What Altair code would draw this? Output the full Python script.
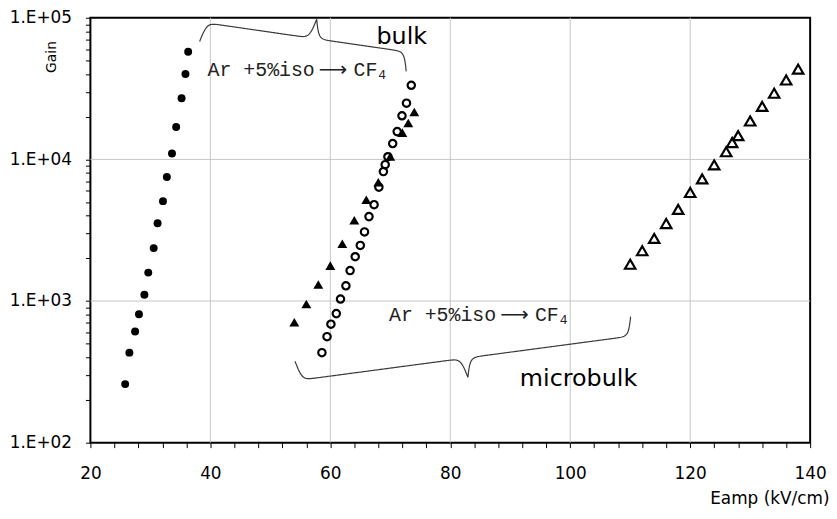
import math
import altair as alt
import pandas as pd

# ---------------- data ----------------
ar_bulk_x = [25.8, 26.5, 27.45, 28.1, 29.0, 29.65, 30.55, 31.2, 32.1, 32.75, 33.6, 34.3, 35.2, 35.85, 36.3]
ar_bulk_gain = [259, 432, 610, 806, 1108, 1587, 2364, 3540, 5074, 7519, 11010, 16940, 27050, 40060, 57500]

cf4_bulk_x = [58.6, 59.45, 60.1, 61.0, 61.7, 62.6, 63.3, 64.15, 65.0, 65.7, 66.45, 67.3, 68.1,
              68.85, 69.15, 69.6, 70.4, 71.15, 71.95, 72.7, 73.5]
cf4_bulk_gain = [432, 560, 686, 815, 1033, 1281, 1640, 2055, 2470, 3076, 3945, 4787, 6363,
                 8200, 9180, 10440, 12940, 15710, 20330, 24950, 33370]

ar_micro_x = [54, 56, 58, 60, 62, 64, 66, 68, 70, 72, 73, 74]
ar_micro_gain = [708, 953, 1308, 1778, 2535, 3717, 5191, 6897, 10490, 15450, 18070, 21590]

cf4_micro_x = [110, 112, 114, 116, 118, 120, 122, 124, 126, 127, 128, 130, 132, 134, 136, 138]
cf4_micro_gain = [1818, 2264, 2766, 3524, 4437, 5838, 7282, 9137, 11320, 13150, 14720, 18670,
                  23660, 29320, 36370, 43420]

x_domain = [20, 140]
y_domain = [100, 100000]
x_tick_labels = [20, 40, 60, 80, 100, 120, 140]
x_minor_step = 4
y_tick_values = [100, 1000, 10000, 100000]
y_tick_labels = ["1.E+02", "1.E+03", "1.E+04", "1.E+05"]
grid_x = [40, 60, 80, 100, 120]
grid_y = [1000, 10000]

# annotations (data coordinates)
gas_label_x = [39.54, 69.78]
gas_label_gain = [38600, 719]
region_text = ["bulk", "microbulk"]
region_x = [67.7, 91.6]
region_gain = [65400, 250]
# braces: start/end in data coordinates, side (+1 up, -1 down), cusp position (fraction)
brace_x0 = [38.21, 54.11]
brace_g0 = [67970, 375.6]
brace_x1 = [72.65, 110.07]
brace_g1 = [41830, 776]
brace_side = [1, -1]
brace_cusp = [0.54, 0.5]

W, H = 725, 428


def to_px(x, g):
    lo, hi = math.log10(y_domain[0]), math.log10(y_domain[1])
    return ((x - x_domain[0]) / (x_domain[1] - x_domain[0]) * W,
            (hi - math.log10(g)) / (hi - lo) * H)


def to_data(u, v):
    lo, hi = math.log10(y_domain[0]), math.log10(y_domain[1])
    return (x_domain[0] + u / W * (x_domain[1] - x_domain[0]),
            10 ** (hi - v / H * (hi - lo)))


def brace_rows(bid, x0, g0, x1, g1, side, cusp, depth=39.0, beta=0.42, n=300):
    ax, ay = to_px(x0, g0)
    bx, by = to_px(x1, g1)
    L = math.hypot(bx - ax, by - ay)
    ux, uy = (bx - ax) / L, (by - ay) / L
    nx, ny = (uy, -ux) if side > 0 else (-uy, ux)
    c = cusp * L
    ds = sorted(set([L * i / n for i in range(n + 1)] + [c]))
    rows = []
    for k, d in enumerate(ds):
        if d <= c:
            dd, cc = d, c
        else:
            dd, cc = L - d, L - c
        off = depth / 2 * (math.tanh(beta * dd / 2) + 2 / (1 + math.exp(-beta * (dd - cc))))
        u = ax + ux * d + nx * off
        v = ay + uy * d + ny * off
        xd, gd = to_data(u, v)
        rows.append({"x": xd, "g": gd, "brace": bid, "k": k})
    return rows


brace_data = []
for i in range(len(brace_x0)):
    brace_data += brace_rows(i, brace_x0[i], brace_g0[i], brace_x1[i], brace_g1[i],
                             brace_side[i], brace_cusp[i])
brace_df = pd.DataFrame(brace_data)

xscale = alt.Scale(domain=x_domain, nice=False, zero=False)
yscale = alt.Scale(type="log", domain=y_domain, nice=False)

y_minor = [k * 10 ** e for e in (2, 3, 4) for k in range(1, 10)] + [100000]
y_label_expr = " : ".join(
    f"datum.value == {v} ? '{t}'" for v, t in zip(y_tick_values, y_tick_labels)) + " : ''"
x_label_expr = "indexof(" + str(x_tick_labels) + ", datum.value) >= 0 ? datum.label : ''"

x_axis = alt.Axis(values=list(range(x_domain[0], x_domain[1] + 1, x_minor_step)),
                  labelExpr=x_label_expr, grid=False, domain=False,
                  tickSize=5, tickColor="black", tickWidth=1,
                  labelFont="DejaVu Sans", labelFontSize=17, labelColor="black",
                  labelPadding=18, labelFlush=False, labelOverlap=False,
                  title="Eamp (kV/cm)", titleFont="DejaVu Sans", titleFontSize=17,
                  titleFontWeight="normal", titleColor="black", titleAlign="right",
                  titleBaseline="alphabetic", titleX=744, titleY=61)
y_axis = alt.Axis(values=y_minor, labelExpr=y_label_expr, grid=False, domain=False,
                  tickSize=5, tickColor="black", tickWidth=1,
                  labelFont="DejaVu Sans", labelFontSize=17, labelColor="black",
                  labelPadding=14, labelOverlap=False, labelFlush=False,
                  title="Gain", titleFont="DejaVu Sans", titleFontSize=14,
                  titleFontWeight="normal", titleColor="black", titleAngle=270,
                  titleAlign="center", titleBaseline="middle", titleX=-39, titleY=39)

X = alt.X("x:Q", scale=xscale, axis=x_axis)
Y = alt.Y("g:Q", scale=yscale, axis=y_axis)


def pts(xs, gs, shape, filled, size, sw=1):
    df = pd.DataFrame({"x": xs, "g": gs})
    return alt.Chart(df).mark_point(shape=shape, filled=filled, size=size, color="black",
                                    opacity=1, strokeWidth=sw).encode(x=X, y=Y)


gx = alt.Chart(pd.DataFrame({"x": grid_x})).mark_rule(color="#c6c6c6", strokeWidth=1).encode(x=X)
gy = alt.Chart(pd.DataFrame({"g": grid_y})).mark_rule(color="#c6c6c6", strokeWidth=1).encode(y=Y)

braces = alt.Chart(brace_df).mark_line(color="#3a3a3a", strokeWidth=1.2).encode(
    x=X, y=Y, detail="brace:N", order="k:Q")

gas_df = pd.DataFrame({"x": gas_label_x, "g": gas_label_gain})
gas_base = alt.Chart(gas_df).encode(x=X, y=Y)
txt_kw = dict(align="left", baseline="alphabetic", color="#222222")
gas1 = gas_base.mark_text(text="Ar +5%iso", font="Liberation Mono", fontSize=20, **txt_kw)
gas2 = gas_base.mark_text(text="\u27f6", font="DejaVu Sans", fontSize=20, dx=112, **txt_kw)
gas3 = gas_base.mark_text(text="CF", font="Liberation Mono", fontSize=20, dx=147, **txt_kw)
gas4 = gas_base.mark_text(text="4", font="Liberation Mono", fontSize=13, dx=172, dy=3, **txt_kw)

reg_df = pd.DataFrame({"x": region_x, "g": region_gain, "t": region_text})
regions = alt.Chart(reg_df).mark_text(align="left", baseline="alphabetic", font="DejaVu Sans",
                                      fontSize=24, color="black").encode(x=X, y=Y, text="t:N")

chart = alt.layer(
    pts(ar_bulk_x, ar_bulk_gain, "circle", True, 64),
    gx, gy,
    pts(cf4_bulk_x, cf4_bulk_gain, "circle", False, 55, sw=2.2),
    pts(ar_micro_x, ar_micro_gain, "triangle-up", True, 100),
    pts(cf4_micro_x, cf4_micro_gain, "triangle-up", False, 110, sw=2.2),
    braces, gas1, gas2, gas3, gas4, regions,
).properties(
    width=W, height=H,
    autosize=alt.AutoSizeParams(type="none"),
    padding={"left": 83, "top": 8, "right": 19, "bottom": 66},
    background="white",
).configure_view(stroke="black", strokeWidth=2)

chart.save("out.html", embed_options={"renderer": "svg", "actions": False})
